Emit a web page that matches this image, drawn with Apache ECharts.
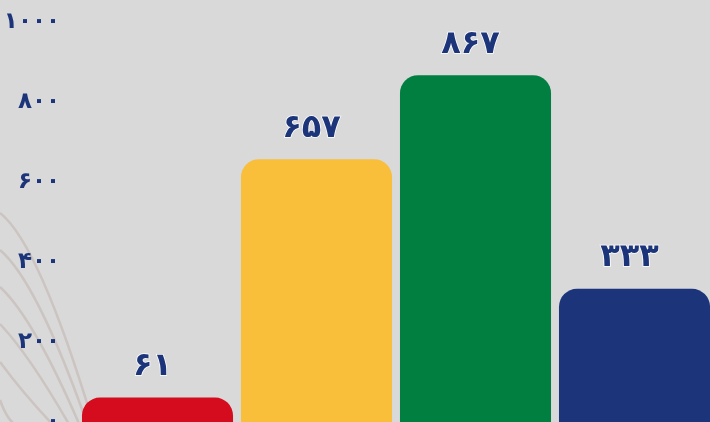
<!DOCTYPE html>
<html>
<head>
<meta charset="utf-8">
<script src="https://cdn.jsdelivr.net/npm/echarts@6/dist/echarts.min.js"></script>
<style>
    html, body { margin: 0; padding: 0; background: #d9d9d9; }
    #char1 { width: 710px; height: 422px; }
</style>
</head>
<body>
<div id="char1"></div>
<script>
// data
var categories = ["الف", "ب", "ج", "د"];
var values = [61, 657, 867, 333];
var yTicks = [0, 200, 400, 600, 800, 1000];

var barColors = ["#d50b1e", "#f9be3a", "#007f41", "#1c3479"];

// background arcs (decoration only)
var arcs = [
    [213, 94], [250, 88], [287, 80], [324, 70], [362, 54], [400, 26]
];

function fa(n) {
    return String(n).replace(/\d/g, function (d) { return "۰۱۲۳۴۵۶۷۸۹"[d]; });
}

char1();

function char1() {
    var myChart = echarts.init(document.getElementById("char1"));

    var graphics = arcs.map(function (a) {
        var y0 = a[0], x1 = a[1];
        return {
            type: "bezierCurve",
            z: -10,
            silent: true,
            shape: { x1: 0, y1: y0, x2: x1, y2: 426, cpx1: x1 * 0.42, cpy1: y0 + 31 },
            style: { stroke: "#cbc4c1", lineWidth: 2.5, fill: null }
        };
    });

    var option = {
        backgroundColor: "#d9d9d9",
        animation: false,
        graphic: graphics,
        grid: {
            left: 78,
            right: -4,
            top: 22,
            bottom: 0,
            containLabel: false,
            outerBoundsMode: "none"
        },
        xAxis: {
            type: "category",
            data: categories,
            show: false
        },
        yAxis: {
            type: "value",
            min: yTicks[0],
            max: yTicks[yTicks.length - 1],
            interval: 200,
            axisLine: { show: false },
            axisTick: { show: false },
            splitLine: { show: false },
            axisLabel: {
                margin: 18,
                color: "#1c3479",
                fontFamily: "DejaVu Sans",
                fontWeight: "bold",
                fontSize: 23,
                formatter: function (v) { return fa(v); }
            }
        },
        series: [{
            name: "values",
            type: "bar",
            barCategoryGap: "5%",
            data: values.map(function (v, i) {
                return { value: v, itemStyle: { color: barColors[i] } };
            }),
            itemStyle: {
                borderRadius: [18, 18, 0, 0]
            },
            label: {
                show: true,
                position: "top",
                distance: 15,
                offset: [-5, 0],
                color: "#1c3479",
                fontFamily: "DejaVu Sans",
                fontWeight: "bold",
                fontSize: 32,
                textBorderColor: "#ffffff",
                textBorderWidth: 1.5,
                formatter: function (p) { return fa(p.value); }
            }
        }]
    };

    myChart.setOption(option);
    window.addEventListener("resize", function () {
        myChart.resize();
    });
}
</script>
</body>
</html>
